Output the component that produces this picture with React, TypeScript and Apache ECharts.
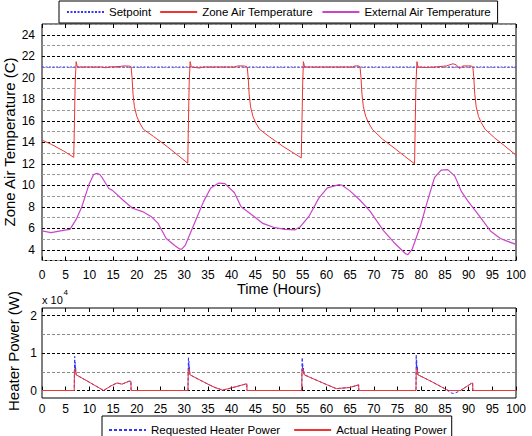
import React, { useEffect, useRef } from 'react';
import * as echarts from 'echarts';

const FONT = '"Liberation Sans", Arial, Helvetica, sans-serif';

const setpointValue = 21;
const timeRange = [0, 100];

const zoneTemp: [number, number][] = [
  [0, 14.2], [2, 13.8], [4.5, 13.2], [6.7, 12.6], [6.85, 16], [7.0, 19.5], [7.2, 21.5], [7.45, 21.0],
  [10, 21.0], [12.5, 21.0], [13.4, 20.93], [14.2, 21.0], [16.5, 21.05], [17.2, 21.1], [18.5, 21.08],
  [18.8, 21.0], [19.0, 20.0], [19.2, 18.5], [19.5, 17.3], [20.0, 16.4], [20.6, 15.8], [21.4, 15.2],
  [23.5, 14.55], [26.4, 13.6], [28.5, 12.85], [30.75, 12.05], [30.9, 16], [31.05, 19.5], [31.25, 21.5],
  [31.5, 21.0], [32.5, 20.95], [33.2, 20.9], [34, 21.0], [40.5, 21.0], [41.3, 21.1], [42.7, 21.1],
  [43.3, 21.0], [43.5, 20.0], [43.7, 18.5], [44.0, 17.3], [44.5, 16.4], [45.1, 15.8], [45.9, 15.2],
  [48.0, 14.5], [50.9, 13.6], [52.7, 13.1], [54.7, 12.55], [54.85, 16], [55.0, 19.5], [55.15, 21.5],
  [55.4, 21.0], [65.5, 21.0], [66.0, 21.1], [66.8, 21.1], [67.1, 21.0], [67.3, 20.0], [67.5, 18.5],
  [67.8, 17.3], [68.3, 16.4], [68.9, 15.8], [69.7, 15.2], [71.8, 14.3], [74.5, 13.4], [76.5, 12.7],
  [78.6, 12.0], [78.75, 16], [78.9, 19.5], [79.1, 21.5], [79.35, 21.0], [81, 20.95], [83, 21.0],
  [85.3, 21.1], [86.7, 21.3], [87.4, 21.2], [88.1, 20.85], [88.8, 21.1], [90.5, 21.1], [90.9, 21.0],
  [91.1, 20.0], [91.3, 18.5], [91.6, 17.3], [92.1, 16.4], [92.7, 15.8], [93.5, 15.2], [95.5, 14.4],
  [97.5, 13.7], [100, 12.8],
];

const externalTemp: [number, number][] = [
  [0, 5.75], [1.9, 5.6], [4.8, 5.83], [5.9, 5.9], [7.3, 6.9], [8.4, 8.0], [9.9, 10.06], [10.9, 11.0],
  [11.6, 11.1], [12.2, 11.0], [12.7, 10.7], [14.1, 9.7], [14.8, 9.55], [17, 8.65], [19.1, 7.86],
  [21.2, 7.55], [23, 7.1], [24.5, 6.45], [26.2, 5.05], [28, 4.4], [29.1, 4.05], [29.5, 4.05],
  [30.2, 4.4], [32.3, 6.6], [34.1, 8.5], [35.6, 9.75], [37.3, 10.2], [38.6, 10.15], [40.6, 9.3],
  [42, 8.0], [44.1, 7.3], [46.6, 6.45], [49.1, 6.05], [51.3, 5.9], [53.4, 5.85], [54.5, 6.15],
  [56.3, 7.1], [58.4, 8.8], [60.2, 9.75], [62.7, 10.06], [63.3, 10.0], [64.9, 9.5], [67, 8.65],
  [69.2, 7.6], [72, 5.8], [74.2, 4.7], [76.7, 3.63], [77.2, 3.55], [78.1, 4.05], [79.9, 6.3],
  [81.3, 8.5], [82.8, 10.7], [84.2, 11.4], [85.6, 11.45], [87.1, 10.85], [88.5, 9.4], [89.9, 8.5],
  [92.1, 7.25], [94.6, 5.75], [96.7, 5.05], [98.1, 4.8], [100, 4.5],
];

// heater power in units of 10^4 W
const requestedPower: [number, number][] = [
  [0, 0], [6.8, 0], [6.85, 0.6], [6.9, 0.91], [6.95, 0.55], [7.0, 0.75], [7.05, 0.5], [7.1, 0.6],
  [7.2, 0.42], [10, 0.22], [13.0, 0.0], [14.5, 0.12], [15.8, 0.2], [16.9, 0.17], [18.3, 0.245],
  [18.75, 0.25], [18.8, 0], [30.8, 0], [30.85, 0.62], [30.9, 0.9], [30.95, 0.55], [31.0, 0.78],
  [31.05, 0.5], [31.1, 0.62], [31.2, 0.42], [33, 0.3], [35, 0.17], [36.5, 0.08], [38.1, 0.01],
  [40, 0.07], [42.9, 0.17], [43.2, 0.18], [43.25, 0], [54.8, 0], [54.85, 0.6], [54.9, 0.88],
  [54.95, 0.52], [55.0, 0.72], [55.05, 0.5], [55.15, 0.6], [55.3, 0.42], [58, 0.27], [60, 0.16],
  [62.1, 0.05], [64.9, 0.08], [66.8, 0.15], [66.85, 0], [78.9, 0], [78.95, 0.95], [79.0, 0.6],
  [79.05, 0.8], [79.1, 0.55], [79.2, 0.65], [79.3, 0.42], [82, 0.25], [85.4, 0.02], [86.2, -0.06],
  [86.8, -0.08], [87.3, -0.06], [88.3, 0], [89.5, 0.1], [90.7, 0.2], [90.85, 0.2], [90.9, 0], [100, 0],
];

const actualPower: [number, number][] = [
  [0, 0], [6.8, 0], [6.85, 0.56], [7.1, 0.56], [7.2, 0.42], [10, 0.22], [13.0, 0.0], [14.5, 0.12],
  [15.8, 0.2], [16.9, 0.17], [18.3, 0.245], [18.75, 0.25], [18.8, 0], [30.8, 0], [30.85, 0.56],
  [31.1, 0.56], [31.2, 0.42], [33, 0.3], [35, 0.17], [36.5, 0.08], [38.1, 0.01], [40, 0.07],
  [42.9, 0.17], [43.2, 0.18], [43.25, 0], [54.8, 0], [54.85, 0.56], [55.15, 0.56], [55.3, 0.42],
  [58, 0.27], [60, 0.16], [62.1, 0.05], [64.9, 0.08], [66.8, 0.15], [66.85, 0], [78.9, 0],
  [78.95, 0.56], [79.2, 0.56], [79.3, 0.42], [82, 0.25], [85.4, 0.02], [85.8, 0], [88.3, 0],
  [89.5, 0.1], [90.7, 0.2], [90.85, 0.2], [90.9, 0], [100, 0],
];

const tempLegend = ['Setpoint', 'Zone Air Temperature', 'External Air Temperature'];
const powerLegend = ['Requested Heater Power', 'Actual Heating Power'];
const powerLabels = [0, 1, 2];

const BLUE = '#3434ff';
const RED = '#ee3434';
const MAGENTA = '#cc44cc';

export default function App() {
  const ref = useRef<HTMLDivElement>(null);
  useEffect(() => {
    if (!ref.current) return;
    const chart = echarts.init(ref.current, undefined, { renderer: 'svg' });

    const xCommon = (gridIndex: number, position: 'top' | 'bottom', labels: boolean, margin: number) => ({
      type: 'value',
      gridIndex,
      position,
      min: timeRange[0],
      max: timeRange[1],
      interval: 5,
      axisLine: { show: false },
      axisTick: { show: true, inside: true, length: 4, lineStyle: { color: '#000', width: 1 } },
      axisLabel: { show: labels, fontSize: 12, color: '#000', margin, fontFamily: FONT },
      splitLine: { show: false },
    });

    const powerGridColors = ['transparent', 'transparent', '#000', 'transparent', 'transparent',
      'transparent', 'transparent', '#888', 'transparent', 'transparent'];

    const option: any = {
      animation: false,
      textStyle: { fontFamily: FONT },
      grid: [
        { left: 42, right: 16, top: 24, height: 236.5, show: true, borderColor: '#000', borderWidth: 1, backgroundColor: 'transparent' },
        { left: 42, right: 16, top: 308, height: 90, show: true, borderColor: '#000', borderWidth: 1, backgroundColor: 'transparent' },
      ],
      xAxis: [
        xCommon(0, 'bottom', true, 8),
        xCommon(0, 'top', false, 8),
        xCommon(1, 'bottom', true, 5),
        xCommon(1, 'top', false, 5),
      ],
      yAxis: [
        {
          type: 'value', gridIndex: 0, min: 3, max: 25, interval: 1,
          axisLine: { show: false }, axisTick: { show: false },
          axisLabel: {
            fontSize: 12, color: '#000', margin: 7, fontFamily: FONT,
            formatter: (v: number) => (Math.round(v) % 2 === 0 ? String(Math.round(v)) : ''),
          },
          splitLine: { show: true, lineStyle: { color: ['#999', '#000'], type: [3, 2], width: 1 } },
        },
        {
          type: 'value', gridIndex: 1, min: -0.2, max: 2.2, interval: 0.1,
          axisLine: { show: false }, axisTick: { show: false },
          axisLabel: {
            fontSize: 12, color: '#000', margin: 5, fontFamily: FONT,
            formatter: (v: number) => {
              const r = Math.round(v);
              return Math.abs(v - r) < 1e-6 && powerLabels.indexOf(r) >= 0 ? String(r) : '';
            },
          },
          splitLine: { show: true, lineStyle: { color: powerGridColors, type: [3, 2], width: 1 } },
        },
      ],
      legend: [
        {
          data: tempLegend, left: 59, top: 1, orient: 'horizontal',
          itemWidth: 37, itemHeight: 12, itemGap: 8, padding: [5, 6, 5, 7],
          borderColor: '#000', borderWidth: 1, backgroundColor: '#fff',
          itemStyle: { opacity: 0 },
          textStyle: { fontSize: 11.5, color: '#000', fontFamily: FONT },
          selectedMode: false,
        },
        {
          data: powerLegend, left: 102, top: 416, orient: 'horizontal',
          itemWidth: 37, itemHeight: 12, itemGap: 13, padding: [8, 5, 8, 6],
          borderColor: '#000', borderWidth: 1, backgroundColor: '#fff',
          itemStyle: { opacity: 0 },
          textStyle: { fontSize: 11.5, color: '#000', fontFamily: FONT },
          selectedMode: false,
        },
      ],
      series: [
        {
          name: 'Setpoint', type: 'line', xAxisIndex: 0, yAxisIndex: 0, symbol: 'none',
          data: [[timeRange[0], setpointValue], [timeRange[1], setpointValue]],
          lineStyle: { color: BLUE, width: 1, type: [2, 1.5] }, itemStyle: { color: BLUE },
        },
        {
          name: 'Zone Air Temperature', type: 'line', xAxisIndex: 0, yAxisIndex: 0, symbol: 'none',
          data: zoneTemp, lineStyle: { color: RED, width: 1 }, itemStyle: { color: RED },
        },
        {
          name: 'External Air Temperature', type: 'line', xAxisIndex: 0, yAxisIndex: 0, symbol: 'none',
          data: externalTemp, lineStyle: { color: MAGENTA, width: 1.2 }, itemStyle: { color: MAGENTA },
        },
        {
          name: 'Requested Heater Power', type: 'line', xAxisIndex: 2, yAxisIndex: 1, symbol: 'none',
          data: requestedPower, lineStyle: { color: BLUE, width: 1, type: [3, 2] }, itemStyle: { color: BLUE },
        },
        {
          name: 'Actual Heating Power', type: 'line', xAxisIndex: 2, yAxisIndex: 1, symbol: 'none',
          data: actualPower, lineStyle: { color: RED, width: 1 }, itemStyle: { color: RED },
        },
      ],
      graphic: [
        {
          type: 'text', x: 9.5, y: 142, rotation: Math.PI / 2,
          style: { text: 'Zone Air Temperature (C)', fontSize: 15, fill: '#000', fontFamily: FONT, align: 'center', verticalAlign: 'middle' },
        },
        {
          type: 'text', x: 13, y: 351, rotation: Math.PI / 2,
          style: { text: 'Heater Power (W)', fontSize: 15, fill: '#000', fontFamily: FONT, align: 'center', verticalAlign: 'middle' },
        },
        {
          type: 'text', x: 279, y: 289,
          style: { text: 'Time (Hours)', fontSize: 14.5, fill: '#000', fontFamily: FONT, align: 'center', verticalAlign: 'middle' },
        },
        {
          type: 'text', x: 42, y: 300,
          style: { text: 'x 10', fontSize: 11, fill: '#000', fontFamily: FONT, align: 'left', verticalAlign: 'middle' },
        },
        {
          type: 'text', x: 63.5, y: 292,
          style: { text: '4', fontSize: 8, fill: '#000', fontFamily: FONT, align: 'left', verticalAlign: 'middle' },
        },
      ],
    };

    chart.setOption(option);
    return () => chart.dispose();
  }, []);

  return <div ref={ref} style={{ position: 'absolute', left: 0, top: 0, width: 532, height: 436, background: '#fff' }} />;
}
